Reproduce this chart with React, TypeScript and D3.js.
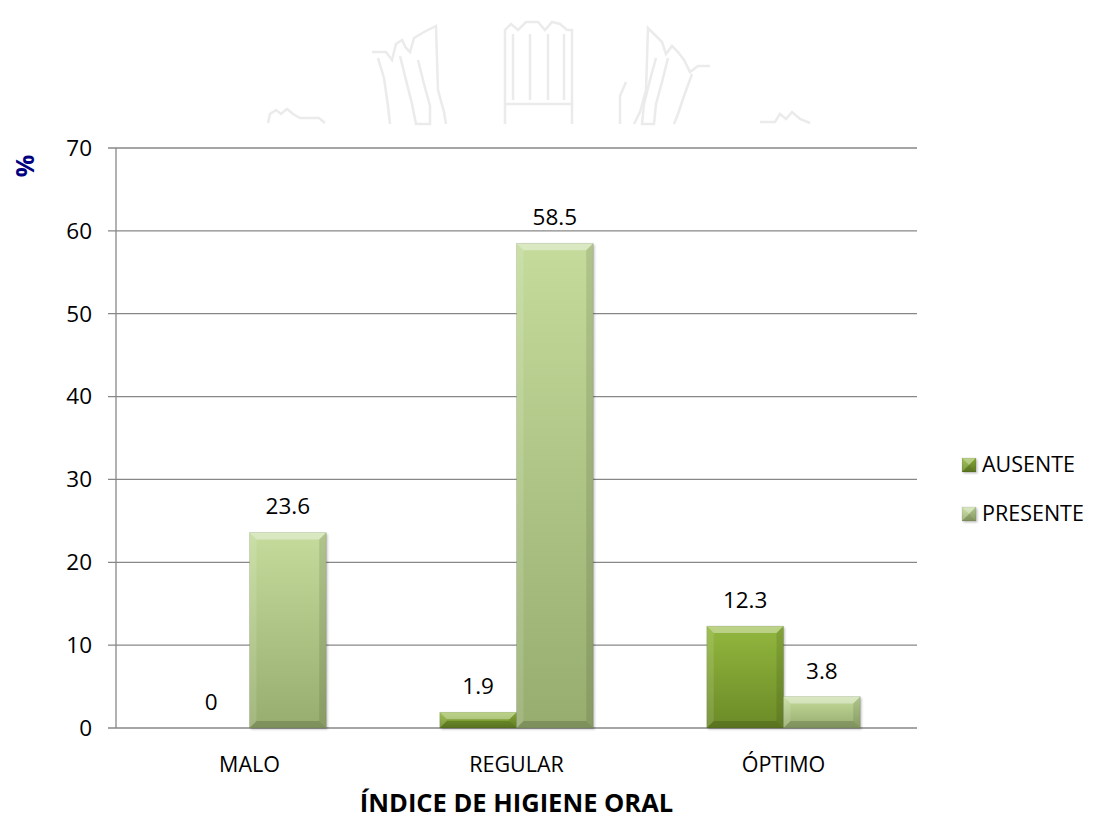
import React from "react";
import * as d3 from "d3";

// Oral hygiene index by group (percent)
const categories = ["MALO", "REGULAR", "ÓPTIMO"];
const seriesNames = ["AUSENTE", "PRESENTE"];
const ausenteValues = [0, 1.9, 12.3];
const presenteValues = [23.6, 58.5, 3.8];
const yTicks = [0, 10, 20, 30, 40, 50, 60, 70];

const W = 1094;
const H = 819;
const plot = { left: 116, right: 917, top: 148, bottom: 728 };
const FONT = "'Open Sans', 'DejaVu Sans', sans-serif";
const GRID = "#878787";

const palette: Record<string, { top: string; bottom: string }> = {
  AUSENTE: { top: "#92b73e", bottom: "#6b8a27" },
  PRESENTE: { top: "#c4db9c", bottom: "#97ad6f" },
};

function BevelBar({ x, y, w, h, series, id }: { x: number; y: number; w: number; h: number; series: string; id: string }) {
  if (h <= 0) return null;
  const b = Math.min(7, h / 2, w / 2);
  const c = palette[series];
  return (
    <g>
      <defs>
        <linearGradient id={id} x1="0" y1="0" x2="0" y2="1">
          <stop offset="0" stopColor={c.top} />
          <stop offset="1" stopColor={c.bottom} />
        </linearGradient>
      </defs>
      <rect x={x + 1.5} y={y + 1.5} width={w} height={h} fill="#000" opacity={0.22} filter="url(#soft)" />
      <rect x={x} y={y} width={w} height={h} fill={`url(#${id})`} />
      <polygon points={`${x},${y} ${x + w},${y} ${x + w - b},${y + b} ${x + b},${y + b}`} fill="#fff" opacity={0.38} />
      <polygon points={`${x},${y} ${x + b},${y + b} ${x + b},${y + h - b} ${x},${y + h}`} fill="#fff" opacity={0.12} />
      <polygon points={`${x + w},${y} ${x + w},${y + h} ${x + w - b},${y + h - b} ${x + w - b},${y + b}`} fill="#000" opacity={0.1} />
      <polygon points={`${x},${y + h} ${x + b},${y + h - b} ${x + w - b},${y + h - b} ${x + w},${y + h}`} fill="#000" opacity={0.16} />
      <rect x={x} y={y} width={w} height={h} fill="none" stroke="#000" strokeOpacity={0.12} strokeWidth={0.8} />
    </g>
  );
}

export default function App() {
  const x0 = d3.scaleBand<string>().domain(categories).range([plot.left, plot.right]).padding(0);
  const x1 = d3
    .scaleBand<string>()
    .domain(seriesNames)
    .range([0, x0.bandwidth()])
    .paddingInner(0)
    .paddingOuter(0.74);
  const y = d3.scaleLinear().domain([0, 70]).range([plot.bottom, plot.top]);

  const rows = categories.map((cat, i) => ({
    cat,
    values: [
      { series: "AUSENTE", value: ausenteValues[i] },
      { series: "PRESENTE", value: presenteValues[i] },
    ],
  }));

  const wm = "#ebebec";

  return (
    <svg
      width={W}
      height={H}
      viewBox={`0 0 ${W} ${H}`}
      style={{ position: "absolute", left: 0, top: 0, background: "#fff" }}
      fontFamily={FONT}
    >
      <defs>
        <filter id="soft" x="-10%" y="-10%" width="120%" height="120%">
          <feGaussianBlur stdDeviation="1.2" />
        </filter>
      </defs>
      <rect width={W} height={H} fill="#fff" />

      {/* faint emblem behind the header */}
      <g fill="none" stroke={wm} strokeWidth={2.5} strokeLinejoin="miter">
        <polyline points="268,123 270,114 276,110 281,114 287,109 293,114 300,118 319,118 325,123" />
        <polyline points="372,52 386,52 392,60 396,44 402,40 406,48 410,52 414,38 424,32 432,28 436,26 438,90 444,112 446,124" />
        <polyline points="378,58 384,78 388,106 390,124" />
        <polyline points="400,56 406,80 412,104 416,124 430,124 430,106 424,84 418,60" />
        <polyline points="505,124 505,30 511,24 518,30 526,22 538,22 545,30 552,22 560,24 567,30 572,30 572,124" />
        <line x1={513} y1={34} x2={513} y2={100} />
        <line x1={530} y1={34} x2={530} y2={100} />
        <line x1={548} y1={34} x2={548} y2={100} />
        <line x1={564} y1={34} x2={564} y2={100} />
        <line x1={505} y1={104} x2={572} y2={104} />
        <polyline points="710,66 698,66 690,72 684,60 678,52 672,46 666,54 662,42 654,34 648,28 646,90 640,112 634,124" />
        <polyline points="692,74 684,96 678,114 674,124" />
        <polyline points="668,58 662,82 656,104 654,124 642,124 644,104 650,80 656,58" />
        <polyline points="620,124 620,96 626,82" />
        <polyline points="760,122 775,122 780,114 786,119 792,112 800,119 810,123" />
      </g>

      {/* gridlines and value axis */}
      {yTicks.map((t) => (
        <g key={t}>
          <line x1={plot.left - 8} x2={plot.right} y1={y(t)} y2={y(t)} stroke={GRID} strokeWidth={1.3} />
          <text x={92} y={y(t)} dy="0.35em" textAnchor="end" fontSize={22.5} fill="#000">
            {t}
          </text>
        </g>
      ))}
      <line x1={plot.left} x2={plot.left} y1={plot.top} y2={plot.bottom} stroke={GRID} strokeWidth={1.3} />

      {/* bars */}
      {rows.map((r) =>
        r.values.map((v) => {
          const bx = (x0(r.cat) as number) + (x1(v.series) as number);
          const bw = x1.bandwidth();
          const by = y(v.value);
          return (
            <g key={r.cat + v.series}>
              <BevelBar x={bx} y={by} w={bw} h={y(0) - by} series={v.series} id={`g-${categories.indexOf(r.cat)}-${v.series}`} />
              <text x={bx + bw / 2} y={by - 18} textAnchor="middle" fontSize={22.5} fill="#000">
                {v.value}
              </text>
            </g>
          );
        })
      )}

      {/* category labels */}
      {categories.map((c) => (
        <text key={c} x={(x0(c) as number) + x0.bandwidth() / 2} y={772} textAnchor="middle" fontSize={21.5} fill="#000">
          {c}
        </text>
      ))}

      {/* axis titles */}
      <text x={(plot.left + plot.right) / 2} y={812} textAnchor="middle" fontSize={25.5} fontWeight="bold" fill="#000">
        ÍNDICE DE HIGIENE ORAL
      </text>
      <text transform="translate(34,166) rotate(-90)" textAnchor="middle" fontSize={25} fontWeight="bold" fill="#000080">
        %
      </text>

      {/* legend */}
      {seriesNames.map((s, i) => (
        <g key={s}>
          <BevelBar x={962} y={458 + i * 49} w={14} h={14} series={s} id={`lg-${s}`} />
          <text x={982} y={472 + i * 49} fontSize={21.5} fill="#000">
            {s}
          </text>
        </g>
      ))}
    </svg>
  );
}
